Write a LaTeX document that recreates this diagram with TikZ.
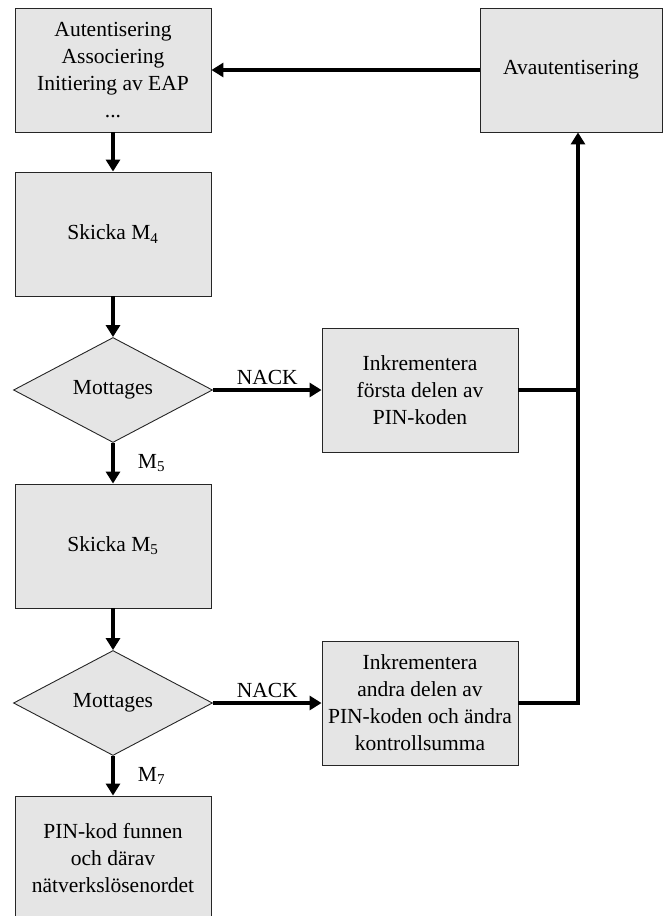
\documentclass[tikz,border=0pt]{standalone}
\usepackage{fontspec}
\setmainfont{Liberation Serif}
\usetikzlibrary{shapes.geometric,arrows.meta}

\tikzset{
  box/.style={draw=black!85, line width=0.9pt, fill=gray!20, minimum width=196pt,
    minimum height=124pt, align=center, inner sep=0pt},
  decision/.style={diamond, draw=black!85, line width=0.9pt, fill=gray!20,
    minimum width=199pt, minimum height=105pt, inner sep=0pt},
  flow/.style={line width=3.2pt, -{Triangle[length=12pt,width=14pt]}},
  flowline/.style={line width=3.2pt},
}

\begin{document}
\begin{tikzpicture}[x=1pt,y=-1pt,every node/.style={font=\fontsize{21.5}{27}\selectfont}]
    \useasboundingbox (0,0) rectangle (664,916);
    % boxes
    \node[box] (init) at (113,70) {Autentisering\\Associering\\Initiering av EAP\\...};
    \node[box, minimum width=182pt] (deauth) at (571,70) {Avautentisering};
    \node[box] (send4) at (113,234) {Skicka M\textsubscript{4}};
    \node[decision] (recv4) at (113,390) {Mottages};
    \node[box] (inc1) at (420,390) {Inkrementera\\första delen av\\PIN-koden};
    \node[box] (send5) at (113,546) {Skicka M\textsubscript{5}};
    \node[decision] (recv5) at (113,703) {Mottages};
    \node[box] (inc2) at (420,703) {Inkrementera\\andra delen av\\PIN-koden och ändra\\kontrollsumma};
    \node[box] (found) at (113,858) {PIN-kod funnen\\och därav\\nätverkslösenordet};
    \coordinate (join) at (578,703);
    % arrows
    \draw[flow] (init) -- (send4);
    \draw[flow] (send4) -- (recv4);
    \draw[flow] (recv4) -- node[right=20pt] {M\textsubscript{5}} (send5);
    \draw[flow] (send5) -- (recv5);
    \draw[flow] (recv5) -- node[right=20pt] {M\textsubscript{7}} (found);
    \draw[flow] (recv4) -- node[above] {NACK} (inc1);
    \draw[flow] (recv5) -- node[above] {NACK} (inc2);
    \draw[flowline] (inc1.east) -- (inc1.east -| join);
    \draw[flow] (inc2) -- (join) -- (deauth.south -| join);
    \draw[flow] (deauth) -- (init);
\end{tikzpicture}
\end{document}
